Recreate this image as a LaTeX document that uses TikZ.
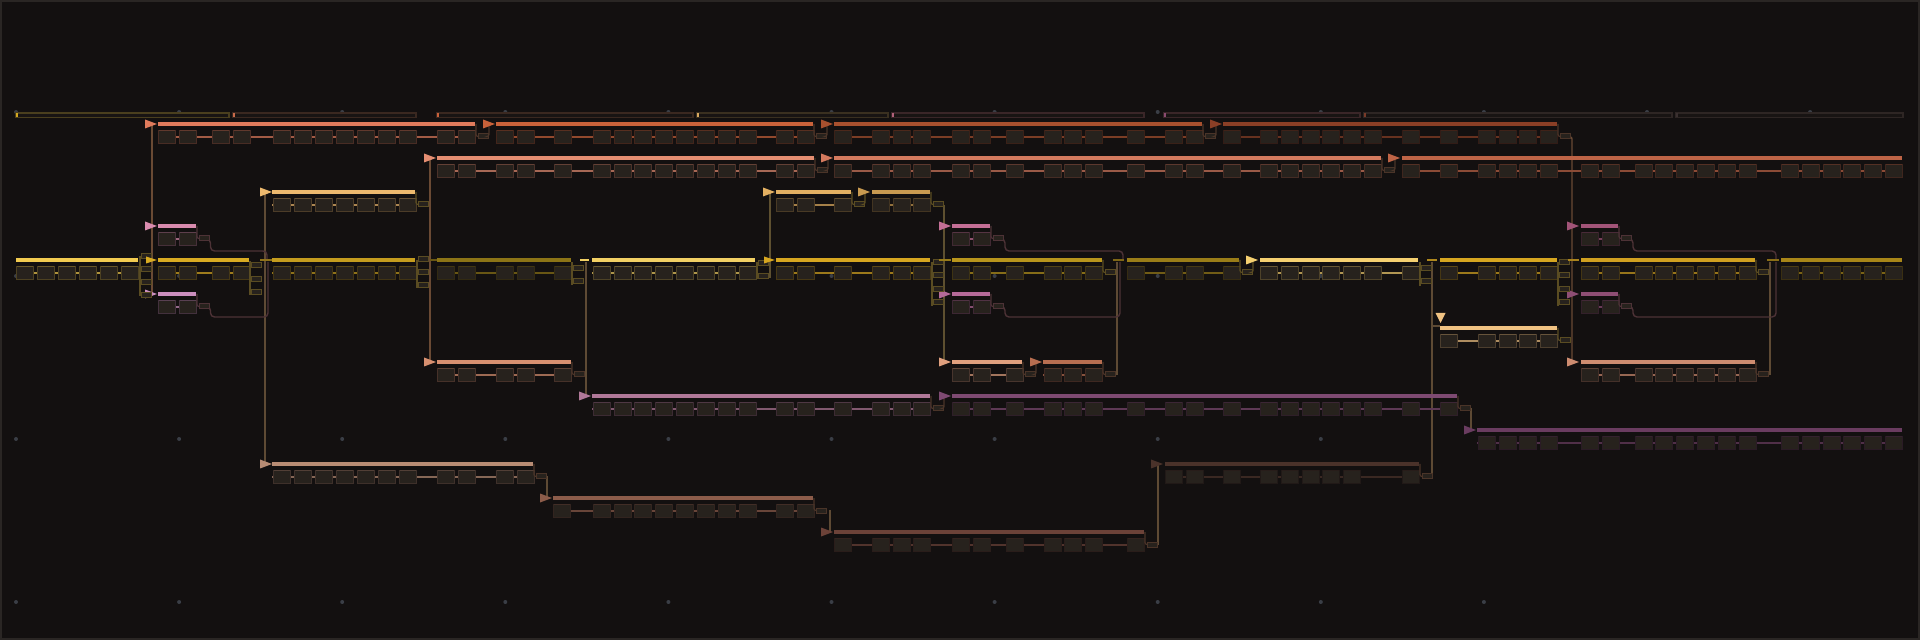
\documentclass[tikz,border=0pt]{standalone}
\definecolor{bgc}{HTML}{131010}
\definecolor{boxc}{HTML}{27221D}
\definecolor{framec}{HTML}{2A2624}
\definecolor{dotc}{HTML}{3A3E46}
\definecolor{spinec}{HTML}{5E4A34}
\definecolor{spineb}{HTML}{6A4A34}
\definecolor{spineg}{HTML}{5E5030}
\definecolor{pinkline}{HTML}{4D3236}
\definecolor{goldstub}{HTML}{5A4C22}
\definecolor{brstub}{HTML}{4A3428}
\definecolor{stripf}{HTML}{181413}
\definecolor{so1}{HTML}{4A3F1E}\definecolor{so2}{HTML}{3A2820}\definecolor{so3}{HTML}{3A3020}
\definecolor{so4}{HTML}{3A2628}\definecolor{so5}{HTML}{2E2624}
\definecolor{tk1}{HTML}{D4A820}\definecolor{tk2}{HTML}{C86A4A}\definecolor{tk3}{HTML}{C8603A}
\definecolor{tk4}{HTML}{D8A860}\definecolor{tk5}{HTML}{B0607A}\definecolor{tk6}{HTML}{8A4A70}
\definecolor{tk7}{HTML}{7A3A28}\definecolor{tk8}{HTML}{3A3030}
\definecolor{A1}{HTML}{E07B5C}\definecolor{A2}{HTML}{C9623A}\definecolor{A3}{HTML}{A8502E}\definecolor{A4}{HTML}{8A3F26}
\definecolor{B1}{HTML}{E58E72}\definecolor{B2}{HTML}{D47A5E}\definecolor{B3}{HTML}{BE6446}
\definecolor{C1}{HTML}{EDB96E}\definecolor{C2}{HTML}{E3B062}\definecolor{C3}{HTML}{C99A50}
\definecolor{P1}{HTML}{D98BAE}\definecolor{P2}{HTML}{C46F96}\definecolor{P3}{HTML}{A25478}
\definecolor{Q1}{HTML}{CC8FBE}\definecolor{Q2}{HTML}{B56A98}\definecolor{Q3}{HTML}{8E4E74}
\definecolor{M1}{HTML}{F2CB50}\definecolor{M2}{HTML}{D9AB22}\definecolor{M3}{HTML}{C49C1E}\definecolor{M4}{HTML}{8C7416}
\definecolor{M5}{HTML}{F2D064}\definecolor{M6}{HTML}{D6A620}\definecolor{M7}{HTML}{B8951C}\definecolor{M8}{HTML}{9A7D18}
\definecolor{M9}{HTML}{F5D070}\definecolor{M10}{HTML}{D6A620}\definecolor{M11}{HTML}{D0A020}\definecolor{M12}{HTML}{A88618}
\definecolor{T1}{HTML}{F0C282}
\definecolor{S1}{HTML}{D89070}\definecolor{S2}{HTML}{E0A07E}\definecolor{S3}{HTML}{B86E50}\definecolor{S4}{HTML}{CE8C70}
\definecolor{U1}{HTML}{B07898}\definecolor{U2}{HTML}{7E4A72}\definecolor{U3}{HTML}{6A3C60}
\definecolor{V1}{HTML}{B88C74}\definecolor{V2}{HTML}{8C5C4A}\definecolor{V3}{HTML}{6C4238}\definecolor{V4}{HTML}{4A322A}
% lane: y, x0, x1, colour, boxes
\newcommand\lanebar[5]{%
  \draw[#4!70!bgc, line width=0.7pt] (#2,#1+13) -- (#3,#1+13);
  \foreach \bx in {#5}{%
    \filldraw[fill=boxc, draw=#4!26!bgc, line width=0.5pt] (\bx+0.5,#1+6.5) rectangle (\bx+17,#1+19.5);
    \draw[#4!38!bgc, line width=0.5pt] (\bx+1,#1+6.8) -- (\bx+16.5,#1+6.8);}
  \fill[#4] (#2,#1-1.8) rectangle (#3,#1+1.8);
}
\newcommand\tri[3]{\fill[#3] (#1-12,#2-4.5) -- (#1,#2) -- (#1-12,#2+4.5) -- cycle;}
\newcommand\stri[3]{\fill[#3] (#1-11,#2-3.5) -- (#1,#2) -- (#1-11,#2+3.5) -- cycle;}
\newcommand\stub[3]{\filldraw[fill=boxc, draw=#3, line width=0.5pt] (#1,#2) rectangle (#1+10,#2+5);}
\newcommand\hstub[4]{\fill[#4] (#1,#3-1.2) rectangle (#2,#3+1.2);}
% join within a row: y, xend, colour
\newcommand\joinrow[3]{%
  \draw[#3, line width=0.6pt, rounded corners=1pt] (#2+1,#1) -- (#2+1,#1+12.5) -- (#2+3,#1+12.5);
  \stub{#2+3}{#1+10}{#3}
  \draw[#3, line width=0.6pt, rounded corners=1pt] (#2+13,#1+12.5) -- (#2+14,#1+12.5) -- (#2+14,#1+2);
}
% stub hanging after a bar end: y, xend, colour
\newcommand\tailstub[3]{%
  \draw[#3, line width=0.6pt, rounded corners=1pt] (#2+1,#1) -- (#2+1,#1+12.5) -- (#2+3,#1+12.5);
  \stub{#2+3}{#1+10}{#3}
}
\newcommand\hdrstrip[4]{%
  \filldraw[fill=stripf, draw=#3, line width=0.6pt] (#1,113) rectangle (#2,117.5);
  \fill[#4] (#1,113) rectangle (#1+2,117.5);
}
% fork stubs: x, list of y tops, left line y1, y2
\newcommand\forkstubs[4]{%
  \draw[goldstub, line width=0.6pt] (#1-1,#3) -- (#1-1,#4);
  \foreach \sy in {#2}{\stub{#1}{\sy}{goldstub}}
}
\begin{document}
\begin{tikzpicture}[x=0.5pt,y=-0.5pt]
\fill[bgc] (0,0) rectangle (1920,640);
\path[use as bounding box] (0,0) rectangle (1920,640);
\draw[framec, line width=1pt] (1,1) rectangle (1919,639);
% grid dots
\foreach \i in {0,...,11}{\foreach \j in {112,276,439}{\fill[dotc] (16+163.1*\i,\j) circle (1pt);}}
\foreach \i in {0,...,9}{\fill[dotc] (16+163.1*\i,602) circle (1pt);}
% header strips
\hdrstrip{16}{229}{so1}{tk1}
\hdrstrip{233}{416}{so2}{tk2}
\hdrstrip{437}{693}{so2}{tk3}
\hdrstrip{697}{888}{so3}{tk4}
\hdrstrip{892}{1144}{so4}{tk5}
\hdrstrip{1164}{1360}{so4}{tk6}
\hdrstrip{1364}{1672}{so5}{tk7}
\hdrstrip{1676}{1903}{so5}{tk8}

% ---------- spines (vertical branch lines) ----------
\draw[spineb, line width=0.7pt] (152,124) -- (152,294);
\draw[spinec, line width=0.7pt] (265,192) -- (265,464);
\draw[spineb, line width=0.7pt] (430,158) -- (430,362);
\draw[spinec, line width=0.7pt] (586,262) -- (586,396);
\draw[spineg, line width=0.7pt] (770,192) -- (770,278);
\draw[spineg, line width=0.7pt] (944,205) -- (944,362);
\draw[spinec, line width=0.7pt] (1117,375) -- (1117,262);
\draw[spinec, line width=0.7pt] (1432,262) -- (1432,477);
\draw[spineb, line width=0.7pt, rounded corners=1pt] (1570,137) -- (1572,137) -- (1572,362);
\draw[spinec, line width=0.7pt] (1770,262) -- (1770,375);
\draw[spinec, line width=0.7pt] (547,476) -- (547,498);
\draw[spinec, line width=0.7pt] (830,510) -- (830,532);
\draw[spinec, line width=0.7pt] (1158,545) -- (1158,464);
\draw[spinec, line width=0.7pt] (1471,408) -- (1471,430);

% pink merge lines
\draw[pinkline, line width=0.7pt, rounded corners=2pt] (209,239) -- (210.5,239) -- (210.5,251) -- (267,251) -- (267,259);
\draw[pinkline, line width=0.7pt, rounded corners=2pt] (209,306.5) -- (210.5,306.5) -- (210.5,317) -- (268,317) -- (268,262);
\draw[pinkline, line width=0.7pt, rounded corners=2pt] (1003,239) -- (1005,239) -- (1005,251) -- (1123,251) -- (1123,259);
\draw[pinkline, line width=0.7pt, rounded corners=2pt] (1003,306.5) -- (1005,306.5) -- (1005,317) -- (1120,317) -- (1120,262);
\draw[pinkline, line width=0.7pt, rounded corners=2pt] (1631,239) -- (1633,239) -- (1633,251) -- (1776,251) -- (1776,259);
\draw[pinkline, line width=0.7pt, rounded corners=2pt] (1631,306.5) -- (1633,306.5) -- (1633,317) -- (1776,317) -- (1776,262);

% ---------- row y=124 ----------
\lanebar{124}{158}{475}{A1}{158,179,212,233,273,294,315,336,357,378,399,437,458}
\tri{157}{124}{A1}
\joinrow{124}{475}{brstub}
\lanebar{124}{496}{813}{A2}{496,517,554,593,614,634,655,676,697,718,739,776,797}
\tri{495}{124}{A2}
\joinrow{124}{813}{brstub}
\lanebar{124}{834}{1202}{A3}{834,872,893,913,952,973,1006,1044,1064,1085,1127,1165,1186}
\tri{833}{124}{A3}
\joinrow{124}{1202}{brstub}
\lanebar{124}{1223}{1557}{A4}{1223,1260,1281,1302,1322,1343,1364,1402,1440,1478,1499,1519,1540}
\tri{1222}{124}{A4}
\tailstub{124}{1557}{brstub}

% ---------- row y=158 ----------
\lanebar{158}{437}{814}{B1}{437,458,496,517,554,593,614,634,655,676,697,718,739,776,797}
\tri{436}{158}{B1}
\joinrow{158}{814}{brstub}
\lanebar{158}{834}{1381}{B2}{834,872,893,913,952,973,1006,1044,1064,1085,1127,1165,1186,1223,1260,1281,1302,1322,1343,1364}
\tri{833}{158}{B2}
\joinrow{158}{1381}{brstub}
\lanebar{158}{1402}{1902}{B3}{1402,1440,1478,1499,1519,1540,1581,1602,1635,1655,1676,1697,1718,1739,1781,1802,1823,1843,1864,1885}
\tri{1400}{158}{B3}

% ---------- row y=192 ----------
\lanebar{192}{272}{415}{C1}{273,294,315,336,357,378,399}
\tri{272}{192}{C1}
\tailstub{192}{415}{goldstub}
\lanebar{192}{776}{851}{C2}{776,797,834}
\tri{775}{192}{C2}
\joinrow{192}{851}{goldstub}
\lanebar{192}{872}{930}{C3}{872,893,913}
\tri{870}{192}{C3}
\tailstub{192}{930}{goldstub}

% ---------- row y=226 (short pink) ----------
\lanebar{226}{158}{196}{P1}{158,179}
\tri{157}{226}{P1}
\tailstub{226}{196}{pinkline}
\lanebar{226}{952}{990}{P2}{952,973}
\tri{951}{226}{P2}
\tailstub{226}{990}{pinkline}
\lanebar{226}{1581}{1618}{P3}{1581,1602}
\tri{1579}{226}{P3}
\tailstub{226}{1618}{pinkline}

% ---------- row y=294 (short pink) ----------
\lanebar{294}{158}{196}{Q1}{158,179}
\tri{157}{294}{Q1}
\tailstub{294}{196}{pinkline}
\lanebar{294}{952}{990}{Q2}{952,973}
\tri{951}{294}{Q2}
\tailstub{294}{990}{pinkline}
\lanebar{294}{1581}{1618}{Q3}{1581,1602}
\tri{1579}{294}{Q3}
\tailstub{294}{1618}{pinkline}

% ---------- main row y=260 ----------
\lanebar{260}{16}{138}{M1}{16,37,58,79,100,121}
\forkstubs{141}{254,267,280,293}{256}{296}
\lanebar{260}{158}{249}{M2}{158,179,212,233}
\stri{157}{260}{M2}
\forkstubs{251}{263,277,290}{261}{295}
\hstub{260}{272}{260}{M3!70!bgc}
\lanebar{260}{272}{415}{M3}{273,294,315,336,357,378,399}
\forkstubs{418}{257,270,283}{260}{288}
\hstub{430}{437}{260}{M4!70!bgc}
\lanebar{260}{437}{571}{M4}{437,458,496,517,554}
\forkstubs{573}{266,279}{262}{285}
\hstub{580}{589}{260}{M5}
\lanebar{260}{592}{755}{M5}{593,614,634,655,676,697,718,739}
\forkstubs{758}{261,274}{262}{279}
\lanebar{260}{776}{930}{M6}{776,797,834,872,893,913}
\stri{775}{260}{M6}
\forkstubs{933}{260,273,287,300}{262}{306}
\hstub{939}{951}{260}{M7!80!bgc}
\lanebar{260}{952}{1102}{M7}{952,973,1006,1044,1064,1085}
\tailstub{260}{1102}{goldstub}
\hstub{1113}{1124}{260}{M8!80!bgc}
\lanebar{260}{1127}{1239}{M8}{1127,1165,1186,1223}
\joinrow{260}{1239}{goldstub}
\lanebar{260}{1260}{1418}{M9}{1260,1281,1302,1322,1343,1364,1402}
\tri{1258}{260}{M9}
\forkstubs{1421}{266,279}{262}{286}
\hstub{1427}{1437}{260}{M10!80!bgc}
\lanebar{260}{1440}{1557}{M10}{1440,1478,1499,1519,1540}
\forkstubs{1559}{260,273,287,300}{262}{306}
\hstub{1568}{1579}{260}{M11!80!bgc}
\lanebar{260}{1581}{1755}{M11}{1581,1602,1635,1655,1676,1697,1718,1739}
\tailstub{260}{1755}{goldstub}
\hstub{1767}{1779}{260}{M12!80!bgc}
\lanebar{260}{1781}{1902}{M12}{1781,1802,1823,1843,1864,1885}

% ---------- row y=328 ----------
\lanebar{328}{1440}{1557}{T1}{1440,1478,1499,1519,1540}
\fill[T1] (1435.5,313) -- (1445.5,313) -- (1440.5,323) -- cycle;
\draw[spinec, line width=0.6pt] (1433,326) -- (1440,326);
\tailstub{328}{1557}{goldstub}

% ---------- row y=362 ----------
\lanebar{362}{437}{571}{S1}{437,458,496,517,554}
\tri{436}{362}{S1}
\tailstub{362}{571}{brstub}
\lanebar{362}{952}{1022}{S2}{952,973,1006}
\tri{951}{362}{S2}
\joinrow{362}{1022}{brstub}
\lanebar{362}{1043}{1102}{S3}{1044,1064,1085}
\tri{1042}{362}{S3}
\tailstub{362}{1102}{brstub}
\lanebar{362}{1581}{1755}{S4}{1581,1602,1635,1655,1676,1697,1718,1739}
\tri{1579}{362}{S4}
\tailstub{362}{1755}{brstub}

% ---------- row y=396 / 430 ----------
\lanebar{396}{592}{930}{U1}{593,614,634,655,676,697,718,739,776,797,834,872,893,913}
\tri{591}{396}{U1}
\joinrow{396}{930}{brstub}
\lanebar{396}{952}{1457}{U2}{952,973,1006,1044,1064,1085,1127,1165,1186,1223,1260,1281,1302,1322,1343,1364,1402,1440}
\tri{951}{396}{U2}
\tailstub{396}{1457}{brstub}
\lanebar{430}{1477}{1902}{U3}{1478,1499,1519,1540,1581,1602,1635,1655,1676,1697,1718,1739,1781,1802,1823,1843,1864,1885}
\tri{1476}{430}{U3}

% ---------- rows y=464..532 ----------
\lanebar{464}{272}{533}{V1}{273,294,315,336,357,378,399,437,458,496,517}
\tri{272}{464}{V1}
\tailstub{464}{533}{brstub}
\lanebar{498}{553}{813}{V2}{553,593,614,634,655,676,697,718,739,776,797}
\tri{552}{498}{V2}
\tailstub{498}{813}{brstub}
\lanebar{532}{834}{1144}{V3}{834,872,893,913,952,973,1006,1044,1064,1085,1127}
\tri{833}{532}{V3}
\tailstub{532}{1144}{brstub}
\lanebar{464}{1165}{1419}{V4}{1165,1186,1223,1260,1281,1302,1322,1343,1402}
\tri{1163}{464}{V4}
\tailstub{464}{1419}{brstub}
\end{tikzpicture}
\end{document}
